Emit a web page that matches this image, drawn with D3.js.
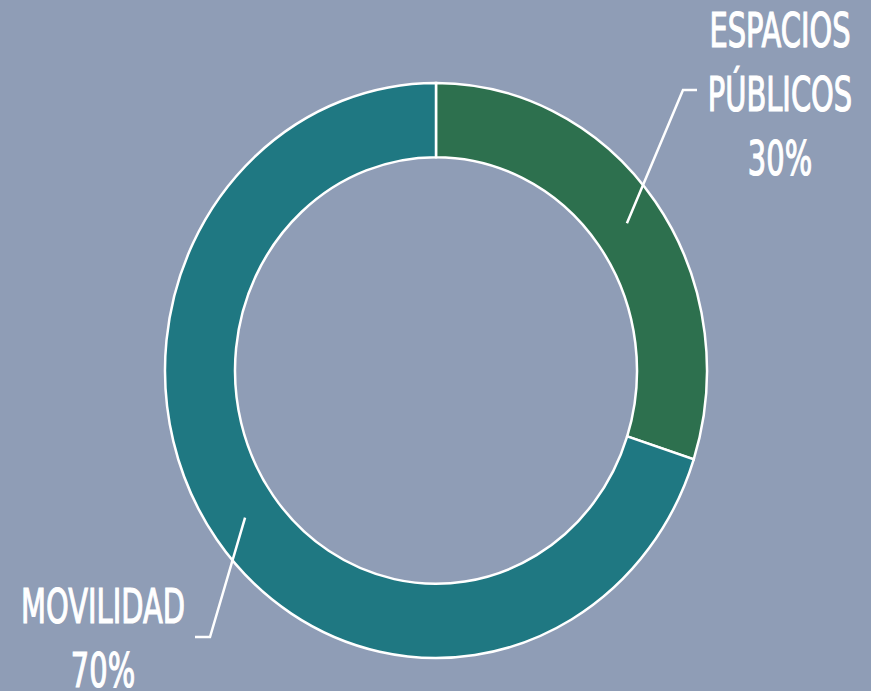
<!DOCTYPE html>
<html>
<head>
<meta charset="utf-8">
<script src="https://cdn.jsdelivr.net/npm/d3@7"></script>
<style>
  html, body { margin: 0; padding: 0; background: #8f9db6; }
  svg { display: block; }
</style>
</head>
<body>
<script>
const categories = ['ESPACIOS PÚBLICOS', 'MOVILIDAD'];
const values = [30, 70];
const labelLines = [['ESPACIOS', 'PÚBLICOS', '30%'], ['MOVILIDAD', '70%']];
const colors = ['#2d704e', '#1f7882'];

const width = 871;
const height = 691;
const cx = 436;
const cy = 370.5;
const squash = 1.061; // the ring is a little taller than wide
const outerR = 271;
const innerR = 201;

const svg = d3.select('body').append('svg')
  .attr('width', width)
  .attr('height', height);

svg.append('rect')
  .attr('width', width)
  .attr('height', height)
  .attr('fill', '#8f9db6');

const pie = d3.pie().sort(null).value((d) => d);
const arcs = pie(values);
const arc = d3.arc().innerRadius(innerR).outerRadius(outerR);

const ring = svg.append('g')
  .attr('transform', `translate(${cx},${cy}) scale(1,${squash})`);

ring.selectAll('path')
  .data(arcs)
  .join('path')
  .attr('d', arc)
  .attr('fill', (d, i) => colors[i])
  .attr('stroke', '#ffffff')
  .attr('stroke-width', 2.5)
  .attr('vector-effect', 'non-scaling-stroke');

// label placement (x of text centre, first baseline, leader elbow and end)
const labelLayout = [
  { x: 780, y: 47, elbow: [683, 90], end: [697, 90] },
  { x: 103, y: 623, elbow: [210, 637], end: [195, 637] },
];
const lineGap = 64;

const midArc = d3.arc().innerRadius(236).outerRadius(236);

arcs.forEach((a, i) => {
  const [sx, sy] = midArc.centroid(a);
  const start = [cx + sx, cy + sy * squash];
  const lay = labelLayout[i];

  svg.append('path')
    .attr('d', d3.line()([start, lay.elbow, lay.end]))
    .attr('fill', 'none')
    .attr('stroke', '#ffffff')
    .attr('stroke-width', 2.5);

  const t = svg.append('g')
    .attr('transform', `translate(${lay.x},${lay.y}) scale(0.67,1)`);
  t.selectAll('text')
    .data(labelLines[i])
    .join('text')
    .attr('y', (d, j) => j * lineGap)
    .attr('text-anchor', 'middle')
    .attr('fill', '#ffffff')
    .attr('stroke', '#ffffff')
    .attr('stroke-width', 1.2)
    .style('font-family', '"DejaVu Sans Condensed", "Liberation Sans Narrow", sans-serif')
    .style('font-size', '48px')
    .text((d) => d);
});
</script>
</body>
</html>
